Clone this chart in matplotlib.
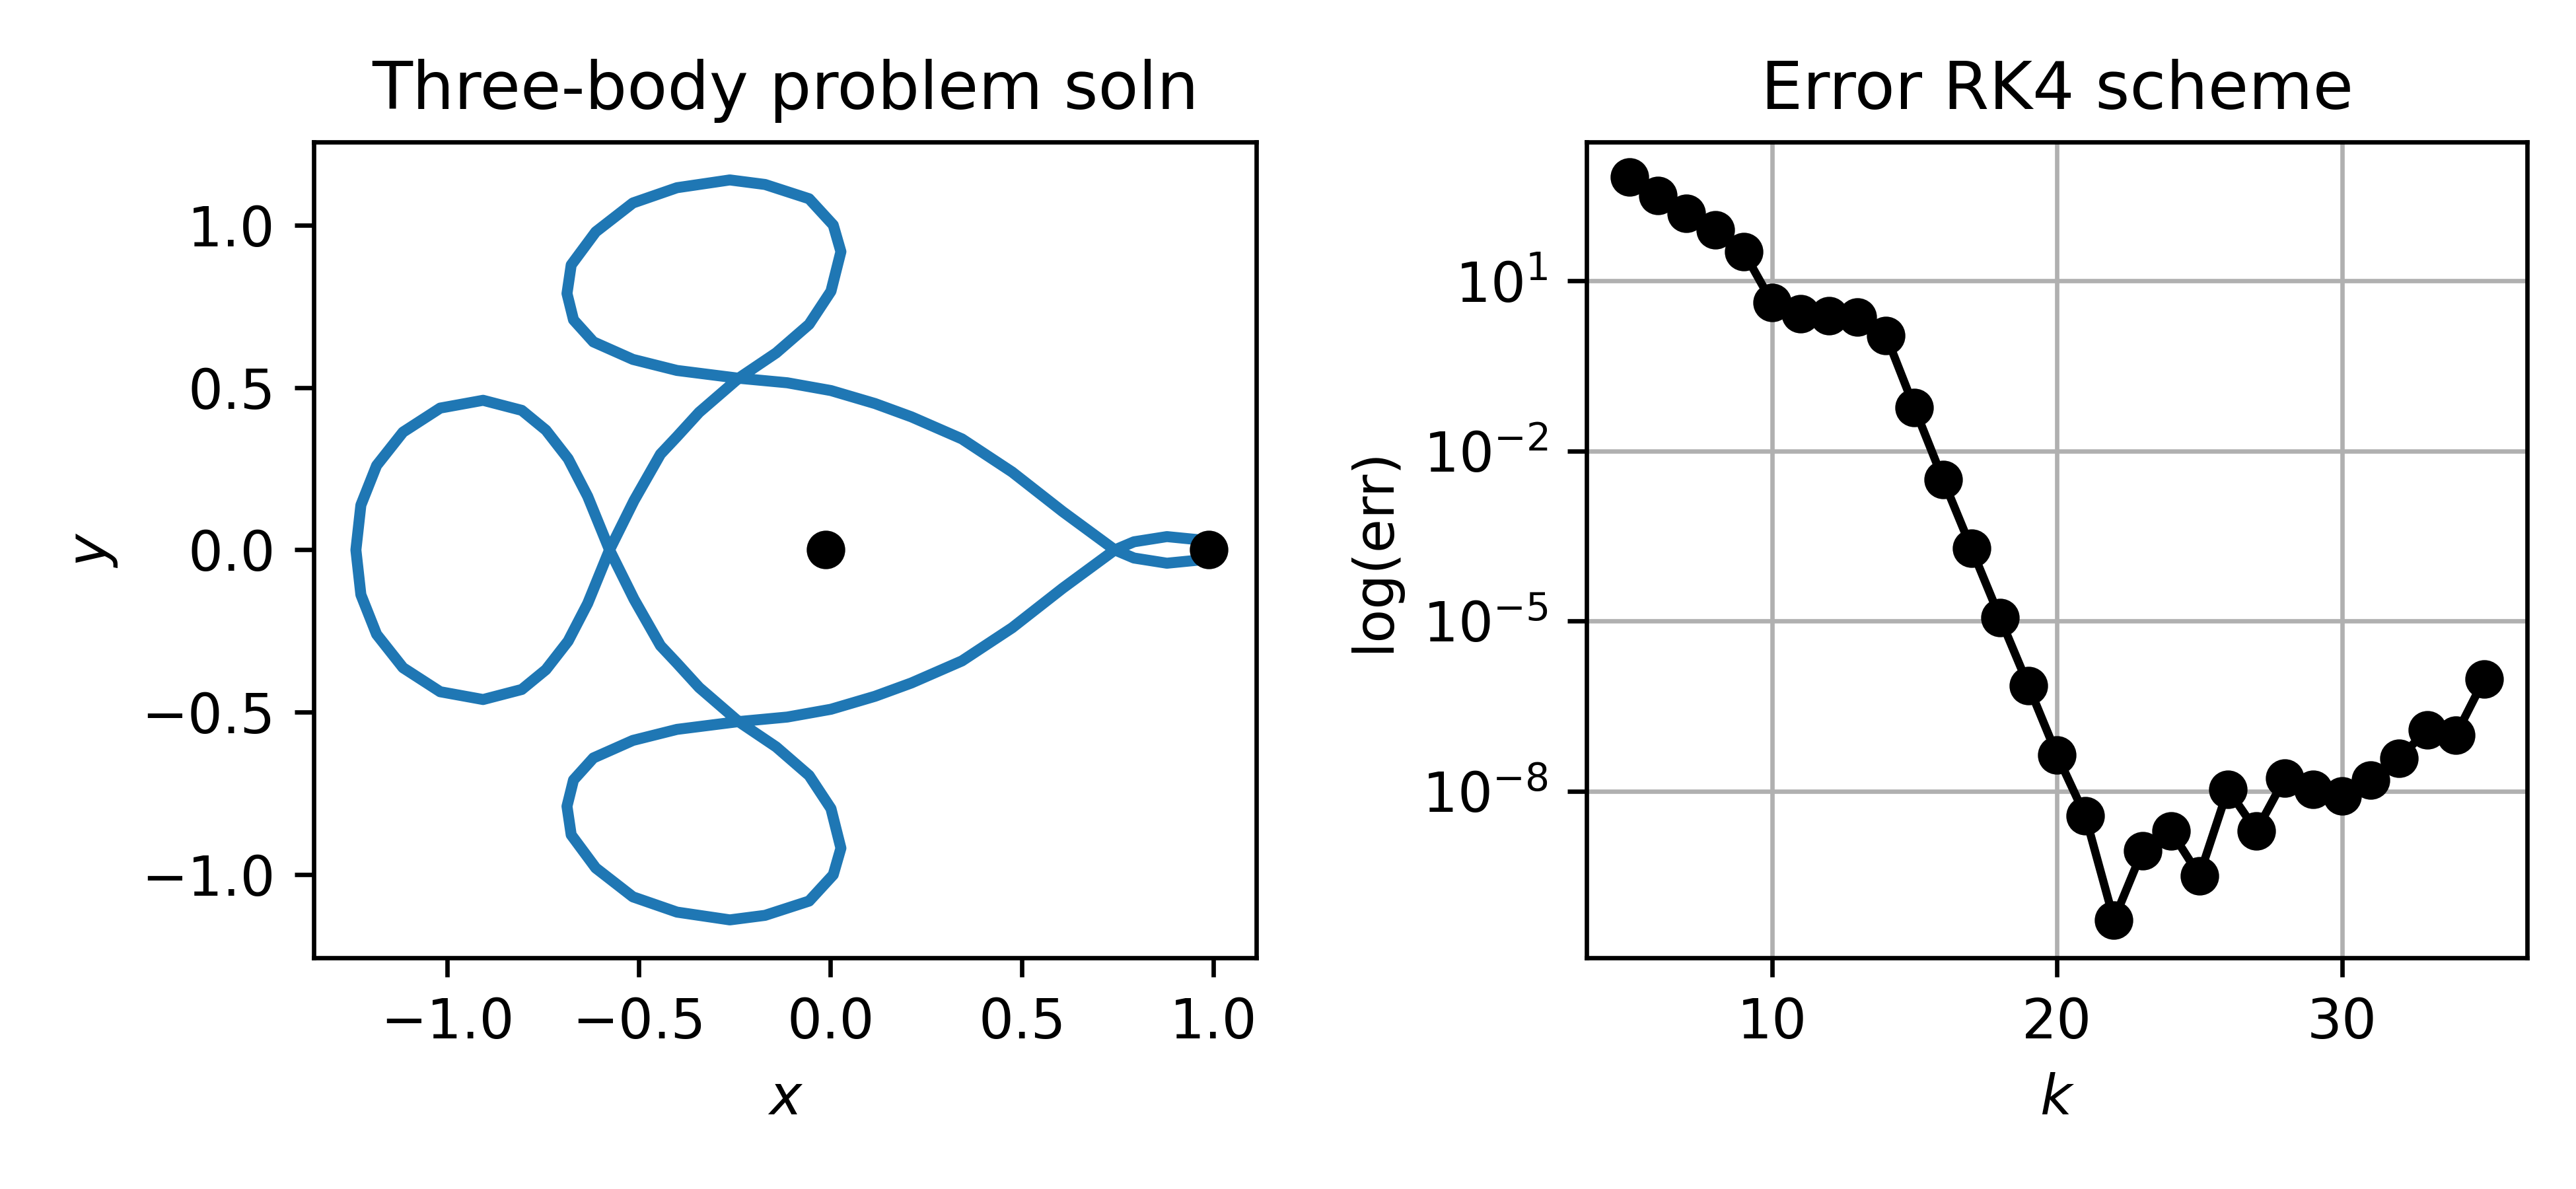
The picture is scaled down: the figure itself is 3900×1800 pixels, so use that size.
import numpy as np
import matplotlib
matplotlib.use("Agg")
import matplotlib.pyplot as plt

# half of the orbit (other half is the mirror in y)
orbit_x = [0.993, 0.964, 0.878, 0.792, 0.742, 0.606, 0.474, 0.343, 0.211, 0.116,
           0.001, -0.113, -0.240, -0.401, -0.516, -0.619, -0.671, -0.688, -0.677,
           -0.613, -0.516, -0.401, -0.263, -0.171, -0.056, 0.007, 0.027, 0.001,
           -0.056, -0.142, -0.240, -0.343, -0.401, -0.444, -0.513, -0.577,
           -0.634, -0.685, -0.743, -0.806, -0.907, -1.019, -1.116, -1.185,
           -1.226, -1.239]
orbit_y = [0.0, -0.031, -0.041, -0.025, 0.0, 0.118, 0.240, 0.342, 0.410, 0.451,
           0.491, 0.515, 0.529, 0.553, 0.587, 0.641, 0.709, 0.790, 0.878,
           0.980, 1.069, 1.116, 1.140, 1.126, 1.082, 1.001, 0.919, 0.797,
           0.695, 0.607, 0.529, 0.424, 0.349, 0.295, 0.152, 0.0,
           -0.165, -0.281, -0.369, -0.430, -0.461, -0.437, -0.363, -0.260,
           -0.138, 0.0]
bodies_x = [-0.012, 0.988]
bodies_y = [0.0, 0.0]

k = list(range(5, 36))
log_err = [2.835, 2.51, 2.19, 1.90, 1.52, 0.62, 0.42, 0.39, 0.36, 0.04,
           -1.24, -2.50, -3.72, -4.94, -6.14, -7.36, -8.44, -10.27, -9.05, -8.70,
           -9.49, -7.97, -8.70, -7.77, -7.97, -8.09, -7.80, -7.42, -6.92, -7.01,
           -6.02]
err = [10.0 ** v for v in log_err]
err_ticks = [1e1, 1e-2, 1e-5, 1e-8]

# full closed orbit
full_x = orbit_x + orbit_x[::-1]
full_y = orbit_y + [-v for v in orbit_y[::-1]]

fig = plt.figure(figsize=(6.5, 3), dpi=600)

ax1 = fig.add_axes([0.1218, 0.1944, 0.366, 0.6862])
ax1.plot(full_x, full_y, lw=2, solid_joinstyle='round')
ax1.plot(bodies_x, bodies_y, 'ko')
ax1.set_xlim(-1.349, 1.112)
ax1.set_ylim(-1.257, 1.257)
ax1.set_xlabel('$x$')
ax1.set_ylabel('$y$')
ax1.set_title('Three-body problem soln')

ax2 = fig.add_axes([0.616, 0.1944, 0.365, 0.6862])
ax2.semilogy(k, err, 'ko-')
ax2.set_xlim(3.5, 36.5)
ax2.set_ylim(10 ** -10.94, 10 ** 3.45)
ax2.set_yticks(err_ticks)
ax2.minorticks_off()
ax2.grid(True)
ax2.set_xlabel('$k$')
ax2.set_ylabel('log(err)')
ax2.set_title('Error RK4 scheme')

fig.savefig('out.png', dpi=600)
